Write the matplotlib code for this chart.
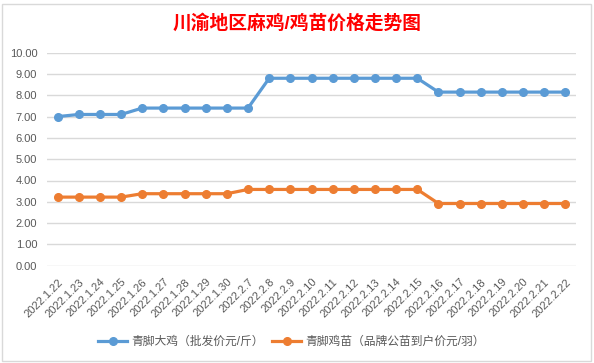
import matplotlib
matplotlib.use("Agg")
import matplotlib.pyplot as plt
from matplotlib.patches import Rectangle

plt.rcParams['font.family'] = ['Liberation Sans', 'Noto Sans CJK SC', 'DejaVu Sans']

dates = ["2022.1.22", "2022.1.23", "2022.1.24", "2022.1.25", "2022.1.26", "2022.1.27",
         "2022.1.28", "2022.1.29", "2022.1.30", "2022.2.7", "2022.2.8", "2022.2.9",
         "2022.2.10", "2022.2.11", "2022.2.12", "2022.2.13", "2022.2.14", "2022.2.15",
         "2022.2.16", "2022.2.17", "2022.2.18", "2022.2.19", "2022.2.20", "2022.2.21",
         "2022.2.22"]
big_chicken = [7.0, 7.1, 7.1, 7.1, 7.4, 7.4, 7.4, 7.4, 7.4, 7.4, 8.8, 8.8, 8.8,
               8.8, 8.8, 8.8, 8.8, 8.8, 8.15, 8.15, 8.15, 8.15, 8.15, 8.15, 8.15]
chick = [3.22, 3.22, 3.22, 3.22, 3.38, 3.38, 3.38, 3.38, 3.38, 3.58, 3.58, 3.58, 3.58,
         3.58, 3.58, 3.58, 3.58, 3.58, 2.92, 2.92, 2.92, 2.92, 2.92, 2.92, 2.92]
series_names = ["青脚大鸡（批发价元/斤）", "青脚鸡苗（品牌公苗到户价元/羽）"]

W, H = 594, 363
fig = plt.figure(figsize=(W / 100, H / 100), dpi=100)
ax = fig.add_axes([47 / W, 1 - 265.7 / H, (576 - 47) / W, 213 / H])

x = range(len(dates))
ax.plot(x, big_chicken, color="#5B9BD5", lw=2.3, marker="o", ms=5.5, label=series_names[0])
ax.plot(x, chick, color="#ED7D31", lw=2.3, marker="o", ms=5.5, label=series_names[1])

ax.set_xlim(-0.5, len(dates) - 0.5)
ax.set_ylim(0, 10)
ax.set_yticks([i for i in range(11)])
ax.set_yticklabels([f"{i:.2f}" for i in range(11)], fontsize=8, color="#595959")
ax.set_xticks(list(x))
ax.set_xticklabels(dates, rotation=45, ha="right", va="top", fontsize=8,
                   color="#595959", rotation_mode="anchor")
ax.tick_params(axis="both", length=0)
ax.tick_params(axis="y", pad=7)
ax.tick_params(axis="x", pad=8)
ax.grid(axis="y", color="#d9d9d9", lw=1)
ax.set_axisbelow(True)
for s in ax.spines.values():
    s.set_visible(False)

fig.text(297 / W, 1 - 23 / H, "川渝地区麻鸡/鸡苗价格走势图", color="red", fontsize=13.5,
         fontweight="bold", ha="center", va="center")

fig.legend(loc="center", bbox_to_anchor=(291.5 / W, 1 - 342 / H), ncol=2, frameon=False,
           fontsize=8.5, handlelength=2.45, columnspacing=0.7, handletextpad=0.35,
           labelcolor="#595959", borderpad=0)

fig.patches.append(Rectangle((2, 2), 589, 357, transform=None, fill=False,
                             edgecolor="#d9d9d9", lw=1))

fig.savefig("out.png", dpi=100)
